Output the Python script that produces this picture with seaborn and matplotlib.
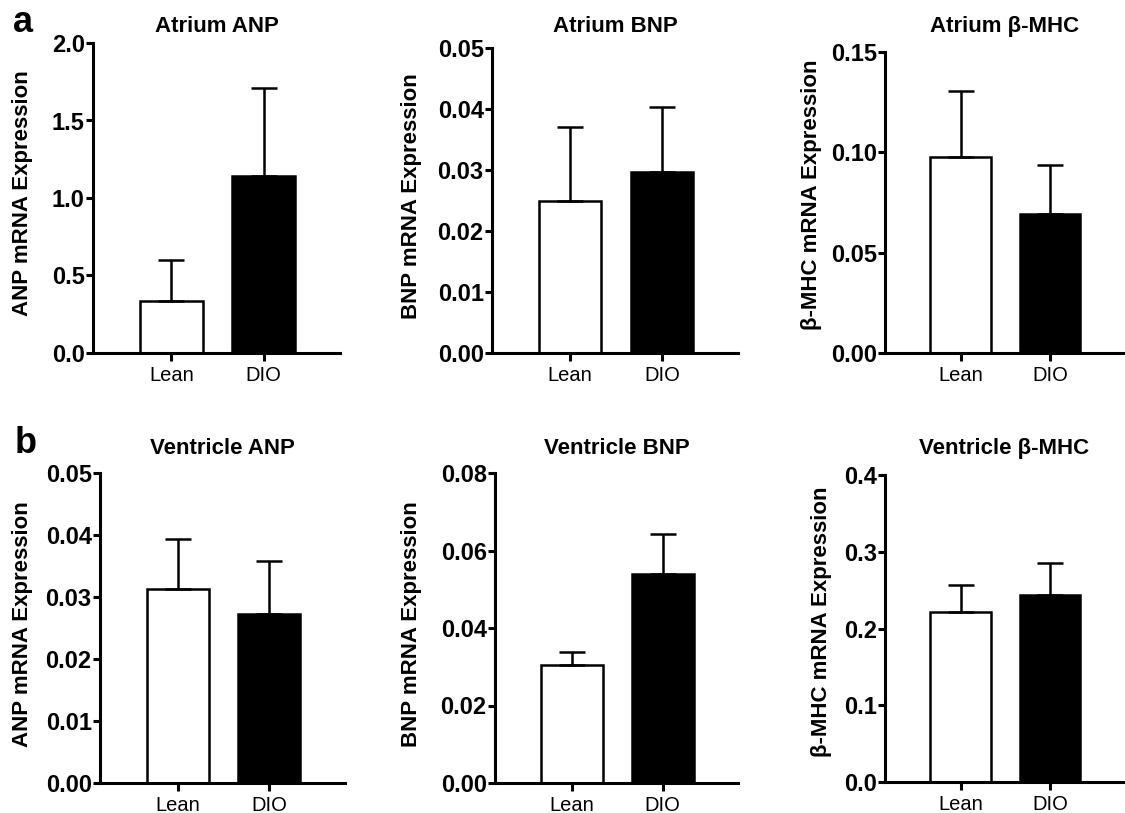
import matplotlib
matplotlib.use('Agg')
import matplotlib.pyplot as plt
import pandas as pd
import seaborn as sns
from matplotlib.ticker import FormatStrFormatter

# values (mean and upper SEM), Lean vs DIO
groups = ['Lean', 'DIO']
titles = ['Atrium ANP', 'Atrium BNP', 'Atrium β-MHC',
          'Ventricle ANP', 'Ventricle BNP', 'Ventricle β-MHC']
ylabels = ['ANP mRNA Expression', 'BNP mRNA Expression', 'β-MHC mRNA Expression',
           'ANP mRNA Expression', 'BNP mRNA Expression', 'β-MHC mRNA Expression']

atrium_anp = [0.334, 1.139]
atrium_anp_sem = [0.268, 0.568]
atrium_bnp = [0.0249, 0.0296]
atrium_bnp_sem = [0.0121, 0.0108]
atrium_mhc = [0.0977, 0.0694]
atrium_mhc_sem = [0.0329, 0.0243]
ventricle_anp = [0.0313, 0.0273]
ventricle_anp_sem = [0.0081, 0.0085]
ventricle_bnp = [0.0304, 0.0539]
ventricle_bnp_sem = [0.0033, 0.0104]
ventricle_mhc = [0.222, 0.243]
ventricle_mhc_sem = [0.035, 0.042]

y_max = [2.0, 0.05, 0.15, 0.05, 0.08, 0.4]
y_step = [0.5, 0.01, 0.05, 0.01, 0.02, 0.1]
y_fmt = ['%.1f', '%.2f', '%.2f', '%.2f', '%.2f', '%.1f']

means = [atrium_anp, atrium_bnp, atrium_mhc, ventricle_anp, ventricle_bnp, ventricle_mhc]
sems = [atrium_anp_sem, atrium_bnp_sem, atrium_mhc_sem,
        ventricle_anp_sem, ventricle_bnp_sem, ventricle_mhc_sem]

sns.set_style('ticks')
plt.rcParams['font.family'] = ['Liberation Sans', 'DejaVu Sans']
for key in ['text.color', 'axes.labelcolor', 'xtick.color', 'ytick.color', 'axes.edgecolor']:
    plt.rcParams[key] = 'black'

W, H = 1125, 813
fig = plt.figure(figsize=(W / 100, H / 100), dpi=100)

# axes boxes in pixels: left, right, bottom, top
boxes = [(93, 340, 353, 43), (492, 738, 353, 48), (885, 1124, 353, 52),
         (100, 345, 783, 473), (495, 738, 783, 473), (885, 1124, 782, 475)]
label_x = [23, 411, 812, 23, 412, 822]
label_y = [193, 196, 195, 624, 624, 622]
title_y = [32, 32, 32, 454, 454, 454]

for i in range(6):
    l, r, b, t = boxes[i]
    ax = fig.add_axes([l / W, 1 - b / H, (r - l) / W, (b - t) / H])
    df = pd.DataFrame({'group': groups, 'value': means[i]})
    sns.barplot(data=df, x='group', y='value', hue='group', palette=['white', 'black'],
                edgecolor='black', linewidth=1.8, width=0.68, errorbar=None,
                legend=False, ax=ax)
    ax.errorbar([0, 1], means[i], yerr=[[0, 0], sems[i]], fmt='none', ecolor='black',
                elinewidth=1.8, capsize=9.5, capthick=1.8, zorder=1)
    ax.set_xlim(-0.85, 1.83)
    ax.set_ylim(0, y_max[i])
    n = int(round(y_max[i] / y_step[i]))
    ax.set_yticks([k * y_step[i] for k in range(n + 1)])
    ax.yaxis.set_major_formatter(FormatStrFormatter(y_fmt[i]))
    ax.set_xlabel('')
    ax.set_ylabel('')
    sns.despine(ax=ax)
    for s in ['left', 'bottom']:
        ax.spines[s].set_linewidth(2.2)
    ax.tick_params(axis='y', length=5, width=2.2, pad=1, labelsize=17)
    ax.tick_params(axis='x', length=6, width=2.2, pad=3, labelsize=14.5)
    for lab in ax.get_yticklabels():
        lab.set_fontweight('bold')
    ax.patch.set_alpha(0)
    fig.text((l + r) / 2 / W, 1 - title_y[i] / H, titles[i], ha='center', va='baseline',
             fontsize=16, fontweight='bold')
    fig.text(label_x[i] / W, 1 - label_y[i] / H, ylabels[i], rotation=90,
             ha='center', va='center', fontsize=16, fontweight='bold')

fig.text(13 / W, 1 - 32 / H, 'a', fontsize=26, fontweight='bold', va='baseline')
fig.text(15 / W, 1 - 453 / H, 'b', fontsize=26, fontweight='bold', va='baseline')

plt.savefig('out.png', dpi=100)
